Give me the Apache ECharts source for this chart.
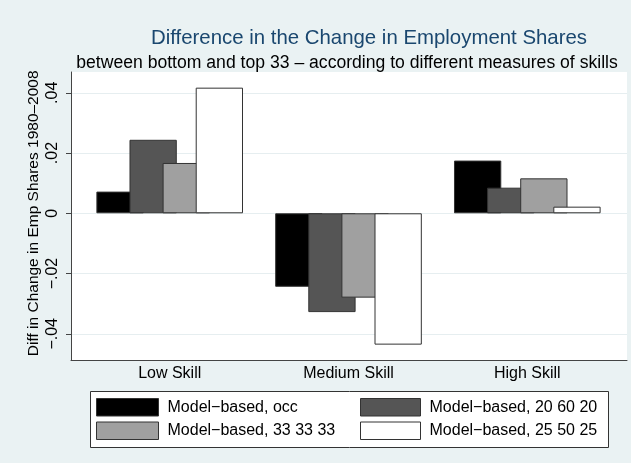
<!DOCTYPE html>
<html>
<head>
<meta charset="utf-8">
<script src="https://cdn.jsdelivr.net/npm/echarts@6/dist/echarts.min.js"></script>
<style>
  html, body { margin: 0; padding: 0; background: #eaf2f3; }
  #chart { width: 631px; height: 463px; }
</style>
</head>
<body>
<div id="chart"></div>
<script>
const categories = ['Low Skill', 'Medium Skill', 'High Skill']
const seriesNames = ['Model\u2212based, occ', 'Model\u2212based, 20 60 20', 'Model\u2212based, 33 33 33', 'Model\u2212based, 25 50 25']
const occ = [0.0072, -0.0244, 0.0175]
const m206020 = [0.0244, -0.0328, 0.0085]
const m333333 = [0.0167, -0.0280, 0.0116]
const m255025 = [0.0417, -0.0436, 0.0022]
const yTicks = [-0.04, -0.02, 0, 0.02, 0.04]
const yTickLabels = ['\u2212.04', '\u2212.02', '0', '.02', '.04']

const barColors = ['#000000', '#555555', '#a0a0a0', '#ffffff']
const seriesData = [occ, m206020, m333333, m255025]

const font = 'Liberation Sans, Arial, sans-serif'
const yMin = -0.0489
const yMax = 0.0469

const chart = echarts.init(document.getElementById('chart'))

const series = seriesNames.map((name, i) => ({
  name: name,
  type: 'bar',
  xAxisIndex: 1,
  yAxisIndex: 1,
  barWidth: 47.3,
  barGap: '-30%',
  animation: false,
  itemStyle: {
    color: barColors[i],
    borderColor: '#333',
    borderWidth: 1
  },
  data: seriesData[i]
}))

chart.setOption({
  backgroundColor: '#eaf2f3',
  textStyle: { fontFamily: font },
  title: [
    {
      text: 'Difference in the Change in Employment Shares',
      left: 364, top: 23, textAlign: 'center',
      textStyle: { color: '#1a476f', fontSize: 20.4, fontWeight: 'normal', fontFamily: font }
    },
    {
      text: 'between bottom and top 33 \u2013 according to different measures of skills',
      left: 342, top: 49, textAlign: 'center',
      textStyle: { color: '#000', fontSize: 17.6, fontWeight: 'normal', fontFamily: font }
    }
  ],
  graphic: [
    {
      type: 'rect',
      shape: { x: 90.5, y: 391.5, width: 518, height: 56 },
      style: { fill: '#fff', stroke: '#333', lineWidth: 1 },
      z: -1
    }
  ],
  legend: [
    {
      data: [seriesNames[0], seriesNames[2]],
      orient: 'vertical',
      left: 96, top: 398,
      itemWidth: 62, itemHeight: 17.5, itemGap: 5,
      padding: 0,
      icon: 'rect',
      itemStyle: { borderColor: '#333', borderWidth: 1 },
      textStyle: { fontSize: 16, color: '#000', fontFamily: font, padding: [0, 0, 0, 4] }
    },
    {
      data: [seriesNames[1], seriesNames[3]],
      orient: 'vertical',
      left: 360, top: 398,
      itemWidth: 60, itemHeight: 17.5, itemGap: 5,
      padding: 0,
      icon: 'rect',
      itemStyle: { borderColor: '#333', borderWidth: 1 },
      textStyle: { fontSize: 16, color: '#000', fontFamily: font, padding: [0, 0, 0, 4] }
    }
  ],
  grid: [
    { left: 71, right: 4, top: 72, bottom: 102.4, show: true, backgroundColor: '#fff', borderWidth: 0 },
    { left: 80.3, width: 536.4, top: 72, bottom: 102.4 }
  ],
  xAxis: [
    {
      gridIndex: 0, type: 'value', min: 0, max: 1,
      axisLine: { show: true, onZero: false, lineStyle: { color: '#444', width: 1 } },
      axisTick: { show: false }, axisLabel: { show: false }, splitLine: { show: false }
    },
    {
      gridIndex: 1, type: 'category', data: categories,
      axisLine: { show: false }, axisTick: { show: false },
      axisLabel: { color: '#000', fontSize: 16, margin: 5, fontFamily: font }
    }
  ],
  yAxis: [
    {
      gridIndex: 0, type: 'value', min: yMin, max: yMax,
      name: 'Diff in Change in Emp Shares 1980\u20132008',
      nameLocation: 'middle', nameGap: 29, nameRotate: 90,
      nameMoveOverlap: false,
      nameTextStyle: { color: '#000', fontSize: 15.5, fontFamily: font, padding: [0, 0, 0, 6] },
      axisLine: { show: true, lineStyle: { color: '#444', width: 1 } },
      axisTick: { show: true, length: 5, customValues: yTicks, lineStyle: { color: '#444' } },
      axisLabel: {
        rotate: 90, margin: 10, color: '#000', fontSize: 16, fontFamily: font,
        customValues: yTicks,
        formatter: v => yTickLabels[yTicks.findIndex(t => Math.abs(t - v) < 1e-9)]
      },
      splitLine: { show: true, lineStyle: { color: '#e6eef0', width: 1 } }
    },
    {
      gridIndex: 1, type: 'value', min: yMin, max: yMax, show: false,
      splitLine: { show: false }
    }
  ],
  series: series
})
</script>
</body>
</html>
